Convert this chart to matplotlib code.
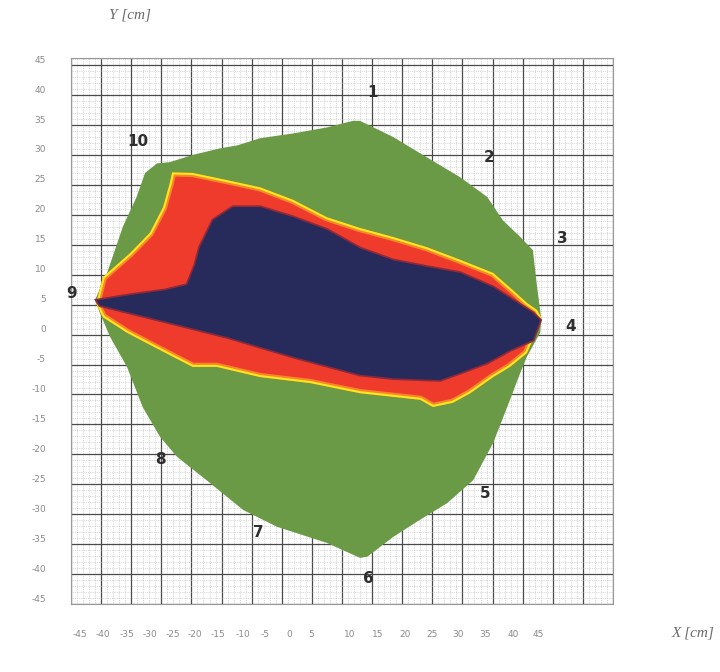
import matplotlib
matplotlib.use('Agg')
from matplotlib import pyplot as plt
from matplotlib.patches import Polygon
import numpy as np

# cross-section outline (cm)
outer_x = [-41.0, -39.0, -36.4, -34.1, -32.7, -30.7, -28.6, -24.8, -20.3, -17.4, -13.6, -8.1, -2.5, 1.8, 3.0,
           8.5, 14.1, 19.6, 24.1, 26.7, 29.6, 31.7, 32.4, 32.9, 33.1, 32.9, 30.7, 29.6, 27.9, 25.1, 21.8,
           17.4, 13.0, 8.5, 4.2, 3.0, -2.5, -10.8, -16.4, -21.9, -27.4, -30.2, -33.1, -35.7, -38.5, -40.2]
outer_y = [5.8, 10.3, 18.0, 23.0, 27.0, 28.6, 28.8, 30.0, 31.1, 31.6, 32.8, 33.6, 34.6, 35.7, 35.7,
           33.0, 29.6, 26.3, 23.0, 19.1, 16.3, 14.1, 7.9, 4.1, 2.4, 0.3, -3.7, -6.4, -10.9, -18.1, -24.3,
           -28.2, -30.9, -33.8, -37.1, -37.3, -34.8, -32.1, -29.3, -24.8, -20.4, -17.1, -12.1, -5.4, -0.4, 3.6]

# anomaly zone, outer edge (yellow)
zone_x = [-40.7, -39.7, -35.2, -31.9, -29.7, -28.6, -28.2, -24.8, -19.1, -13.6, -8.1, -2.5, 3.0, 8.5,
          14.1, 19.6, 25.1, 28.4, 30.7, 32.4, 33.1, 32.4, 30.7, 27.9, 25.1, 21.3, 18.4, 15.1, 13.0,
          8.5, 3.0, -5.3, -13.6, -20.8, -24.8, -30.2, -35.7, -39.7, -40.7]
zone_y = [5.7, 9.6, 13.6, 17.0, 21.3, 25.3, 27.1, 27.0, 25.8, 24.6, 22.5, 19.6, 17.8, 16.3,
          14.6, 12.5, 10.3, 7.4, 5.3, 4.1, 2.8, 0.8, -3.1, -5.4, -7.1, -9.8, -11.4, -12.1, -10.9,
          -10.4, -9.8, -8.1, -7.1, -5.4, -5.4, -2.6, 0.3, 2.9, 4.9]

# anomaly core (dark)
core_x = [-40.7, -35.2, -29.4, -25.7, -24.4, -23.6, -21.4, -18.1, -13.6, -8.1, -2.5, 3.0, 8.5, 14.1,
          19.6, 25.1, 29.1, 31.7, 32.9, 31.7, 27.9, 24.1, 19.6, 16.3, 8.5, 3.0, -8.1, -19.1, -30.2, -40.2]
core_y = [5.7, 6.6, 7.4, 8.3, 11.6, 14.6, 19.1, 21.3, 21.3, 19.6, 17.5, 14.4, 12.4, 11.3,
          10.3, 7.9, 5.3, 3.6, 2.4, -0.9, -2.6, -4.7, -6.4, -7.6, -7.3, -6.7, -3.7, -0.4, 2.4, 4.9]

# measuring points
point_names = ['1', '2', '3', '4', '5', '6', '7', '8', '9', '10']
point_x = [5.0, 24.4, 36.5, 37.9, 23.8, 4.3, -13.9, -30.2, -44.9, -33.9]
point_y = [40.5, 29.6, 16.1, 1.4, -26.5, -40.7, -33.0, -20.9, 6.9, 32.2]

# axis scale labels
xtick_labels = ['-45', '-40', '-35', '-30', '-25', '-20', '-15', '-10', '-5', '0', '5',
                '10', '15', '20', '25', '30', '35', '40', '45']
xtick_pos = [-43.5, -39.7, -35.7, -31.9, -28.1, -24.4, -20.6, -16.4, -12.8, -8.8, -5.1,
             1.3, 6.0, 10.5, 15.0, 19.3, 23.8, 28.4, 32.6]
ytick_labels = ['45', '40', '35', '30', '25', '20', '15', '10', '5', '0',
                '-5', '-10', '-15', '-20', '-25', '-30', '-35', '-40', '-45']
ytick_pos = [46, 41, 36, 31, 26, 21, 16, 11, 6, 1,
             -4, -9, -14, -19, -24, -29, -34, -39, -44]

green = '#6b9a47'
red = '#ef3b2b'
orange = '#f8862a'
yellow = '#f5ea1c'
navy = '#272b5b'

fig = plt.figure(figsize=(7.2, 6.72), dpi=100)
ax = fig.add_axes([0.0986, 0.1012, 0.7528, 0.8125])
ax.set_xlim(-45, 45)
ax.set_ylim(-45, 46.2)

# grid paper
ax.set_xticks(np.arange(-45, 46, 5))
ax.set_yticks(np.arange(-45, 46, 5))
ax.set_xticks(np.arange(-45, 46, 1), minor=True)
ax.set_yticks(np.arange(-45, 47, 1), minor=True)
ax.tick_params(which='both', length=0, labelbottom=False, labelleft=False)
ax.grid(which='major', color='#4a4a4a', lw=0.9)
ax.grid(which='minor', color='#b5b5b5', lw=0.5, ls=':')
ax.set_axisbelow(True)
for s in ax.spines.values():
    s.set_color('#999999')
    s.set_linewidth(0.8)

body = Polygon(np.column_stack([outer_x, outer_y]), closed=True, fc=green, ec='none', zorder=2)
ax.add_patch(body)

zone = Polygon(np.column_stack([zone_x, zone_y]), closed=True, fc=red, ec='none', zorder=3)
ax.add_patch(zone)
# soft yellow/orange rim on the inside of the zone
rim1 = Polygon(np.column_stack([zone_x, zone_y]), closed=True, fill=False, ec=orange, lw=6, zorder=3.1)
rim2 = Polygon(np.column_stack([zone_x, zone_y]), closed=True, fill=False, ec=yellow, lw=3, zorder=3.2)
for r in (rim1, rim2):
    ax.add_patch(r)
    r.set_clip_path(zone)

core_edge = Polygon(np.column_stack([core_x, core_y]), closed=True, fill=False, ec='#8c2a3c', lw=2.5, zorder=3.3)
ax.add_patch(core_edge)
core = Polygon(np.column_stack([core_x, core_y]), closed=True, fc=navy, ec='none', zorder=3.4)
ax.add_patch(core)

for name, px, py in zip(point_names, point_x, point_y):
    ax.text(px, py, name, ha='center', va='center', fontsize=11, fontweight='bold',
            color='#2e2e2e', zorder=5, clip_on=False)

# scale labels
sx = ax.secondary_xaxis('bottom')
sx.set_xticks(xtick_pos, xtick_labels)
sx.tick_params(length=0, pad=19, labelsize=6.5, labelcolor='#8a8a8a')
sx.spines['bottom'].set_visible(False)
sy = ax.secondary_yaxis('left')
sy.set_yticks(ytick_pos, ytick_labels)
sy.tick_params(length=0, pad=18, labelsize=6.5, labelcolor='#8a8a8a')
sy.spines['left'].set_visible(False)

fig.text(0.18, 0.978, 'Y [cm]', fontsize=11, style='italic', family='Liberation Serif',
         color='#6a6a6a', ha='center', va='center')
fig.text(0.962, 0.058, 'X [cm]', fontsize=11, style='italic', family='Liberation Serif',
         color='#6a6a6a', ha='center', va='center')

plt.savefig('out.png', dpi=100)
